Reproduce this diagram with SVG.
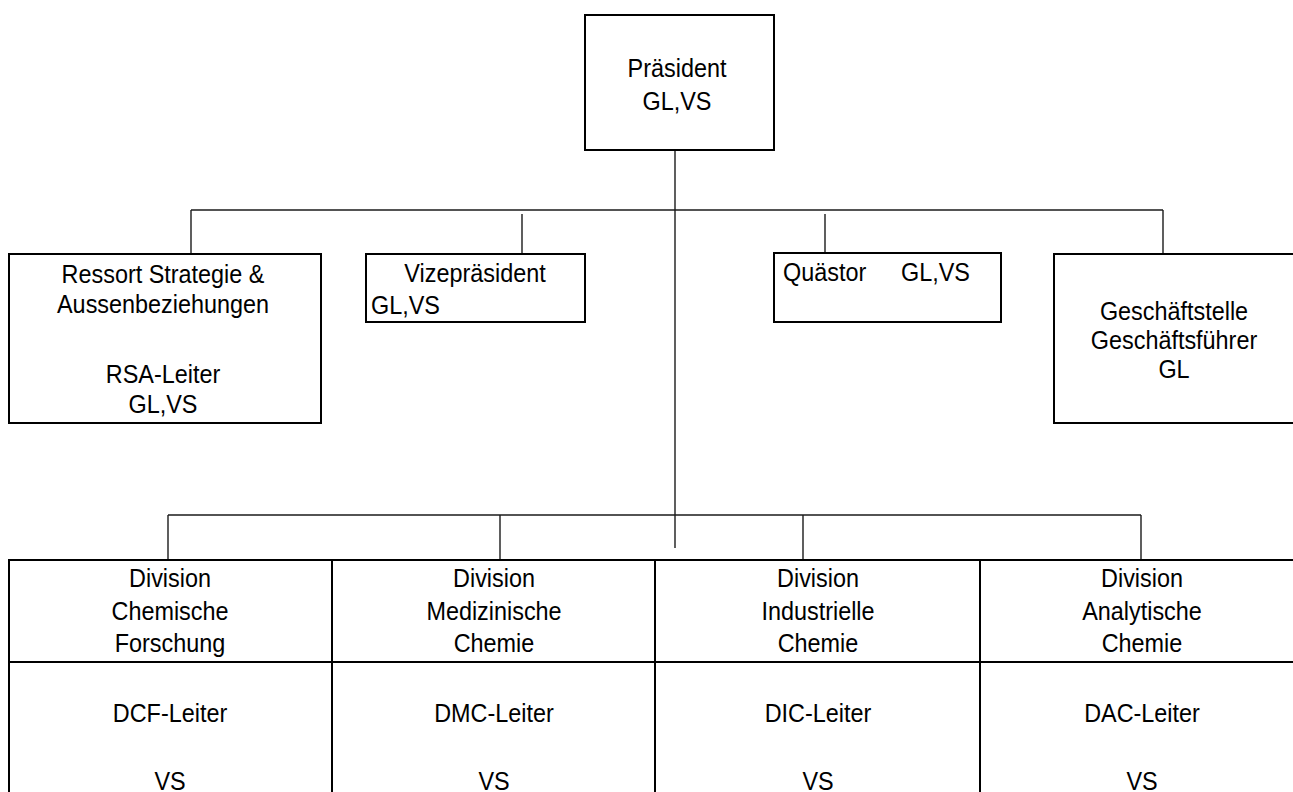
<svg xmlns="http://www.w3.org/2000/svg" width="1293" height="792" viewBox="0 0 1293 792">
  <style>
    .box { fill: #ffffff; stroke: #000000; stroke-width: 2; }
    .conn { fill: none; stroke: #1a1a1a; stroke-width: 1.4; }
    text { font-family: "Liberation Sans", Arial, sans-serif; font-size: 26px; fill: #000000; }
    .c { text-anchor: middle; }
  </style>
  <rect width="1293" height="792" fill="#ffffff"/>

  <g id="connectors">
    <line class="conn" x1="675" y1="150" x2="675" y2="548"/>
    <line class="conn" x1="191" y1="210" x2="1163" y2="210"/>
    <line class="conn" x1="191" y1="210" x2="191" y2="254"/>
    <line class="conn" x1="522" y1="214" x2="522" y2="262"/>
    <line class="conn" x1="825" y1="214" x2="825" y2="257"/>
    <line class="conn" x1="1163" y1="210" x2="1163" y2="262"/>
    <line class="conn" x1="168" y1="515" x2="1141" y2="515"/>
    <line class="conn" x1="168" y1="515" x2="168" y2="560"/>
    <line class="conn" x1="500" y1="515" x2="500" y2="565"/>
    <line class="conn" x1="803" y1="515" x2="803" y2="565"/>
    <line class="conn" x1="1141" y1="515" x2="1141" y2="563"/>
  </g>

  <g id="praesident">
    <rect class="box" x="585" y="15" width="189" height="135"/>
    <g transform="translate(677 0) scale(0.9 1)">
      <text class="c" x="0" y="77">Präsident</text>
      <text class="c" x="0" y="110">GL,VS</text>
    </g>
  </g>

  <g id="ressort">
    <rect class="box" x="9" y="254" width="312" height="169"/>
    <g transform="translate(163 0) scale(0.9 1)">
      <text class="c" x="0" y="283">Ressort Strategie &amp;</text>
      <text class="c" x="0" y="313">Aussenbeziehungen</text>
      <text class="c" x="0" y="383">RSA-Leiter</text>
      <text class="c" x="0" y="413">GL,VS</text>
    </g>
  </g>

  <g id="vizepraesident">
    <rect class="box" x="366" y="254" width="219" height="68"/>
    <g transform="translate(475 0) scale(0.9 1)">
      <text class="c" x="0" y="282">Vizepräsident</text>
    </g>
    <g transform="translate(371 0) scale(0.9 1)">
      <text x="0" y="314">GL,VS</text>
    </g>
  </g>

  <g id="quaestor">
    <rect class="box" x="774" y="253" width="227" height="69"/>
    <g transform="translate(783 0) scale(0.9 1)">
      <text x="0" y="281">Quästor</text>
    </g>
    <g transform="translate(901 0) scale(0.9 1)">
      <text x="0" y="281">GL,VS</text>
    </g>
  </g>

  <g id="geschaeftsstelle">
    <rect class="box" x="1054" y="254" width="260" height="169"/>
    <g transform="translate(1174 0) scale(0.9 1)">
      <text class="c" x="0" y="320">Geschäftstelle</text>
      <text class="c" x="0" y="349">Geschäftsführer</text>
      <text class="c" x="0" y="378">GL</text>
    </g>
  </g>

  <g id="divisions">
    <rect class="box" x="9" y="560" width="1300" height="260"/>
    <line class="box" x1="9" y1="662" x2="1309" y2="662"/>
    <line class="box" x1="332" y1="560" x2="332" y2="792"/>
    <line class="box" x1="655" y1="560" x2="655" y2="792"/>
    <line class="box" x1="980" y1="560" x2="980" y2="792"/>
  </g>

  <g id="div-dcf" transform="translate(170 0) scale(0.9 1)">
    <text class="c" x="0" y="587">Division</text>
    <text class="c" x="0" y="620">Chemische</text>
    <text class="c" x="0" y="652">Forschung</text>
    <text class="c" x="0" y="722">DCF-Leiter</text>
    <text class="c" x="0" y="790">VS</text>
  </g>

  <g id="div-dmc" transform="translate(494 0) scale(0.9 1)">
    <text class="c" x="0" y="587">Division</text>
    <text class="c" x="0" y="620">Medizinische</text>
    <text class="c" x="0" y="652">Chemie</text>
    <text class="c" x="0" y="722">DMC-Leiter</text>
    <text class="c" x="0" y="790">VS</text>
  </g>

  <g id="div-dic" transform="translate(818 0) scale(0.9 1)">
    <text class="c" x="0" y="587">Division</text>
    <text class="c" x="0" y="620">Industrielle</text>
    <text class="c" x="0" y="652">Chemie</text>
    <text class="c" x="0" y="722">DIC-Leiter</text>
    <text class="c" x="0" y="790">VS</text>
  </g>

  <g id="div-dac" transform="translate(1142 0) scale(0.9 1)">
    <text class="c" x="0" y="587">Division</text>
    <text class="c" x="0" y="620">Analytische</text>
    <text class="c" x="0" y="652">Chemie</text>
    <text class="c" x="0" y="722">DAC-Leiter</text>
    <text class="c" x="0" y="790">VS</text>
  </g>
</svg>
